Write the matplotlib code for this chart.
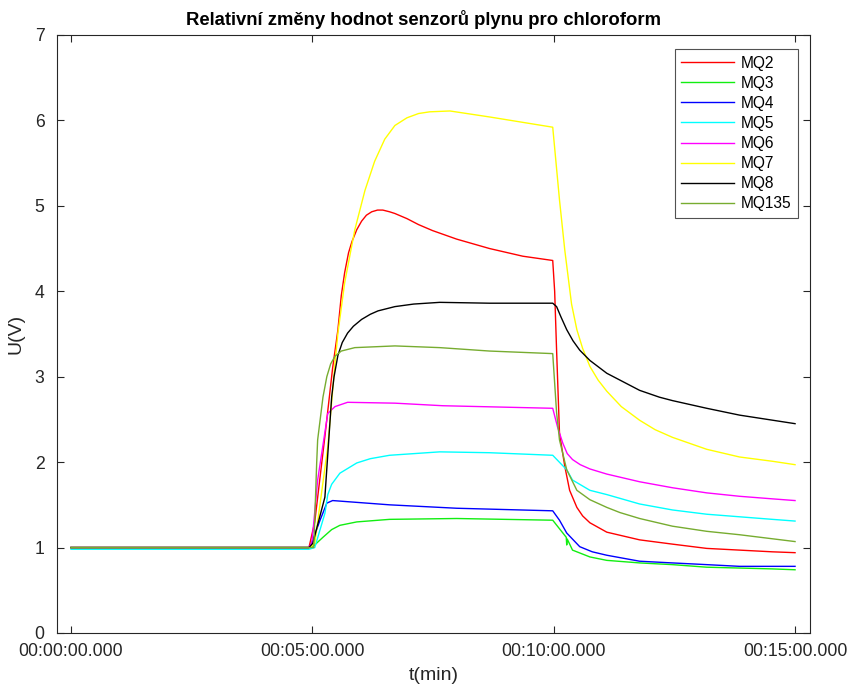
import matplotlib
matplotlib.use("Agg")
import matplotlib.pyplot as plt
from matplotlib.ticker import FixedLocator

plt.rcParams['font.family'] = ['Liberation Sans', 'DejaVu Sans']

# Sensor traces: time in minutes, relative voltage change
t_mq2 = [0.0, 2.0, 4.0, 4.93, 5.05, 5.26, 5.42, 5.53, 5.60, 5.67, 5.75, 5.82, 5.92,
         6.02, 6.12, 6.23, 6.35, 6.46, 6.60, 6.71, 6.96, 7.20, 7.49, 7.99, 8.67, 9.36,
         9.98, 10.02, 10.06, 10.12, 10.23, 10.33, 10.48, 10.60, 10.75, 11.10, 11.78,
         12.46, 13.17, 13.85, 14.53, 15.0]
v_mq2 = [1.0, 1.0, 1.0, 1.0, 1.30, 2.30, 3.10, 3.55, 3.95, 4.22, 4.45, 4.58, 4.72,
         4.82, 4.89, 4.93, 4.95, 4.95, 4.93, 4.91, 4.85, 4.78, 4.71, 4.61, 4.50, 4.41,
         4.36, 4.00, 3.31, 2.34, 1.95, 1.67, 1.47, 1.37, 1.29, 1.18, 1.09,
         1.04, 0.99, 0.97, 0.95, 0.94]

t_mq3 = [0.0, 2.0, 4.0, 4.93, 4.99, 5.22, 5.40, 5.57, 5.92, 6.60, 7.99, 9.98, 10.19,
         10.26, 10.27, 10.28, 10.39, 10.75, 11.10, 11.78, 12.46, 13.17, 13.85, 14.53,
         15.0]
v_mq3 = [1.0, 1.0, 1.0, 1.0, 1.0, 1.12, 1.21, 1.26, 1.30, 1.33, 1.34, 1.32, 1.17,
         1.12, 1.03, 1.10, 0.97, 0.89, 0.85, 0.82, 0.80, 0.77, 0.76, 0.75,
         0.74]

t_mq4 = [0.0, 2.0, 4.0, 4.93, 4.95, 5.16, 5.30, 5.42, 6.60, 7.99, 9.98, 10.12, 10.27,
         10.54, 10.80, 11.10, 11.78, 12.46, 13.17, 13.85, 14.53, 15.0]
v_mq4 = [1.0, 1.0, 1.0, 1.0, 1.0, 1.32, 1.52, 1.55, 1.50, 1.46, 1.43, 1.32, 1.17,
         1.01, 0.95, 0.91, 0.84, 0.82, 0.80, 0.78, 0.78, 0.78]

t_mq5 = [0.0, 2.0, 4.0, 4.93, 5.05, 5.26, 5.32, 5.40, 5.57, 5.92, 6.20, 6.60, 7.64,
         8.67, 9.98, 10.27, 10.39, 10.75, 11.10, 11.78, 12.46, 13.17, 13.85, 14.53,
         15.0]
v_mq5 = [0.98, 0.98, 0.98, 0.98, 1.0, 1.40, 1.62, 1.74, 1.87, 1.99, 2.04, 2.08, 2.12,
         2.11, 2.08, 1.91, 1.79, 1.67, 1.62, 1.51, 1.44, 1.39, 1.36, 1.33,
         1.31]

t_mq6 = [0.0, 2.0, 4.0, 4.92, 4.99, 5.11, 5.32, 5.47, 5.73, 6.71, 7.70, 9.98, 10.08,
         10.19, 10.28, 10.39, 10.55, 10.75, 11.10, 11.78, 12.46, 13.17, 13.85, 14.53,
         15.0]
v_mq6 = [1.0, 1.0, 1.0, 1.0, 1.05, 1.79, 2.57, 2.65, 2.70, 2.69, 2.66, 2.63, 2.41,
         2.22, 2.10, 2.03, 1.97, 1.92, 1.86, 1.77, 1.70, 1.64, 1.60, 1.57,
         1.55]

t_mq7 = [0.0, 2.0, 4.0, 4.95, 5.05, 5.32, 5.47, 5.53, 5.67, 5.88, 6.09, 6.29, 6.50,
         6.71, 6.96, 7.20, 7.43, 7.85, 8.67, 9.98, 10.12, 10.23, 10.37, 10.48, 10.60,
         10.75, 10.92, 11.10, 11.40, 11.78, 12.10, 12.46, 13.17, 13.85, 14.53, 15.0]
v_mq7 = [1.0, 1.0, 1.0, 1.0, 1.05, 2.18, 3.16, 3.51, 4.10, 4.72, 5.18, 5.52, 5.78,
         5.94, 6.03, 6.08, 6.10, 6.11, 6.04, 5.92, 5.07, 4.48, 3.85, 3.55, 3.33,
         3.12, 2.96, 2.83, 2.65, 2.49, 2.38, 2.29, 2.15, 2.06, 2.01, 1.97]

t_mq8 = [0.0, 2.0, 4.0, 4.93, 5.01, 5.26, 5.40, 5.45, 5.53, 5.62, 5.73, 5.85, 6.02,
         6.20, 6.36, 6.71, 7.10, 7.64, 8.67, 9.98, 10.06, 10.15, 10.27, 10.40, 10.54,
         10.75, 11.10, 11.78, 12.19, 12.46, 13.17, 13.85, 15.0]
v_mq8 = [1.0, 1.0, 1.0, 1.0, 1.05, 1.59, 2.76, 3.00, 3.25, 3.40, 3.51, 3.59, 3.67,
         3.73, 3.77, 3.82, 3.85, 3.87, 3.86, 3.86, 3.82, 3.70, 3.55, 3.42, 3.31,
         3.19, 3.04, 2.84, 2.76, 2.72, 2.63, 2.55, 2.45]

t_mq135 = [0.0, 2.0, 4.0, 4.90, 5.03, 5.09, 5.11, 5.22, 5.30, 5.38, 5.47, 5.60, 5.88,
           6.71, 7.64, 8.67, 9.98, 10.06, 10.12, 10.27, 10.48, 10.75, 11.10, 11.37,
           11.78, 12.46, 13.17, 13.85, 15.0]
v_mq135 = [1.0, 1.0, 1.0, 1.0, 1.0, 1.99, 2.26, 2.76, 3.00, 3.15, 3.24, 3.30, 3.34,
           3.36, 3.34, 3.30, 3.27, 2.58, 2.26, 1.91, 1.67, 1.56, 1.47, 1.41,
           1.34, 1.25, 1.19, 1.15, 1.07]

labels = ['MQ2', 'MQ3', 'MQ4', 'MQ5', 'MQ6', 'MQ7', 'MQ8', 'MQ135']
x_tick_vals = [0, 5, 10, 15]
x_tick_labels = ['00:00:00.000', '00:05:00.000', '00:10:00.000', '00:15:00.000']
y_tick_vals = [0, 1, 2, 3, 4, 5, 6, 7]

series = [(t_mq2, v_mq2), (t_mq3, v_mq3), (t_mq4, v_mq4), (t_mq5, v_mq5),
          (t_mq6, v_mq6), (t_mq7, v_mq7), (t_mq8, v_mq8), (t_mq135, v_mq135)]
colors = ['#ff0000', '#11ee11', '#0000ff', '#00ffff', '#ff00ff', '#ffff00',
          '#000000', '#77ac30']

fig = plt.figure(figsize=(8.48, 6.89), dpi=100)
ax = fig.add_axes([0.0672, 0.0813, 0.888, 0.868])

for (t, v), c, lab in zip(series, colors, labels):
    ax.plot(t, v, color=c, lw=1.0, label=lab)

ax.set_xlim(-0.29, 15.31)
ax.set_ylim(0, 7)
ax.xaxis.set_major_locator(FixedLocator(x_tick_vals))
ax.set_xticklabels(x_tick_labels)
ax.yaxis.set_major_locator(FixedLocator(y_tick_vals))
ax.tick_params(direction='in', length=5, width=0.8, top=True, right=True,
               labelsize=12.7, colors='#262626')
ax.tick_params(axis='x', pad=7)
ax.tick_params(axis='y', pad=9)
for s in ax.spines.values():
    s.set_color('#262626')
    s.set_linewidth(0.8)

ax.set_xlabel('t(min)', fontsize=14, color='#262626', labelpad=5)
ax.set_ylabel('U(V)', fontsize=14, color='#262626', labelpad=7)
ax.set_title('Relativní změny hodnot senzorů plynu pro chloroform',
             fontsize=13.3, fontweight='bold', pad=7, x=0.487)

leg = ax.legend(loc='upper right', bbox_to_anchor=(0.984, 0.976), fontsize=11.2,
                frameon=True, fancybox=False, edgecolor='#262626',
                handlelength=3.4, handletextpad=0.45, labelspacing=0.33,
                borderpad=0.4, borderaxespad=0)
leg.get_frame().set_linewidth(0.8)

fig.savefig('out.png', dpi=100)
